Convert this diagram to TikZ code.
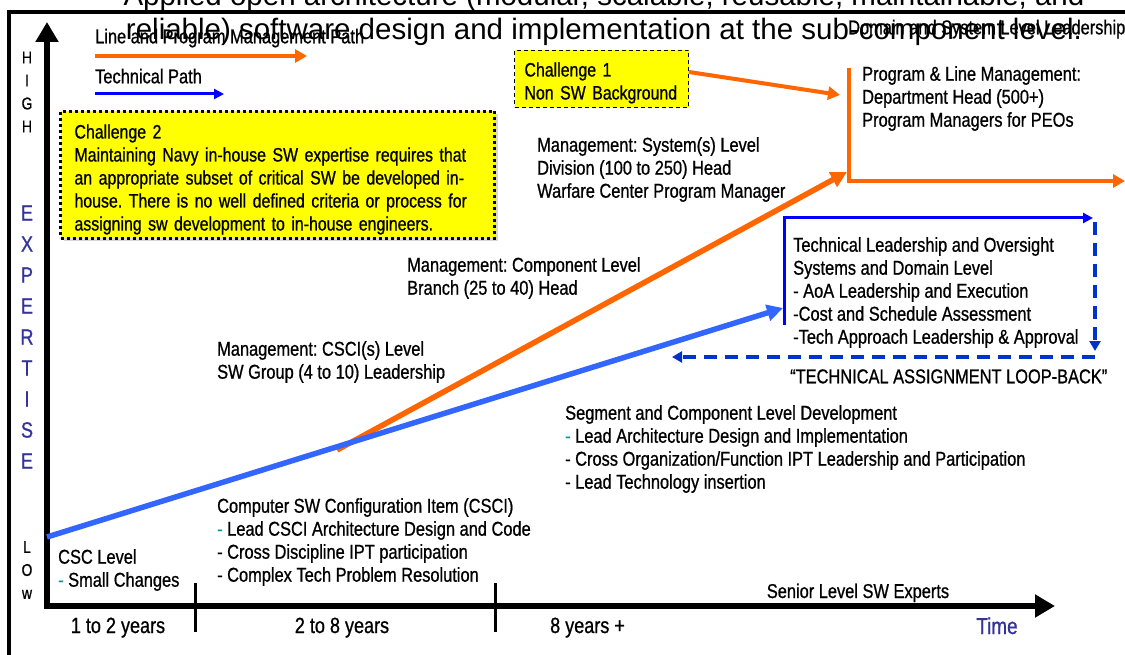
\documentclass[tikz,border=0pt]{standalone}
\usepackage{fontspec}
\setmainfont{Liberation Sans}
\newfontfamily\narrowfont{Liberation Sans}[FakeStretch=0.82, FakeBold=0.8]
\usetikzlibrary{arrows.meta,shadows}
\definecolor{mgmtorange}{RGB}{255,102,0}
\definecolor{techblue}{RGB}{51,102,255}
\definecolor{boxblue}{RGB}{0,0,255}
\definecolor{loopblue}{RGB}{0,51,204}
\definecolor{axisblue}{RGB}{51,51,153}
\definecolor{dashteal}{RGB}{0,153,153}
\definecolor{chalyellow}{RGB}{255,255,0}
\newcommand{\tdash}{\textcolor{dashteal}{-}}

\begin{document}
\frenchspacing
\begin{tikzpicture}[x=1pt,y=-1pt,
    txt/.style={font=\narrowfont\fontsize{20}{23}\selectfont, align=left, inner sep=0pt, anchor=north west, execute at begin node=\strut},
    lbl/.style={font=\narrowfont\fontsize{20}{23}\selectfont, inner sep=0pt, anchor=base},
    yrs/.style={font=\narrowfont\fontsize{22}{26}\selectfont, inner sep=0pt, anchor=base},
    vword/.style={font=\narrowfont\fontsize{17}{23}\selectfont, align=center, inner sep=0pt},
    ttl/.style={font=\fontsize{29.5}{33}\selectfont, inner sep=0pt, anchor=base},
    chal/.style={fill=chalyellow, font=\narrowfont\fontsize{19.4}{23}\selectfont, align=left, anchor=north west, inner ysep=3pt}]
    \useasboundingbox (0,0) rectangle (1125,655);
    \clip (0,0) rectangle (1125,655);
    \fill[white] (0,0) rectangle (1125,655);

    \coordinate (frametl) at (9,12);
    \coordinate (framebr) at (1140,670);
    \draw[line width=4pt] (frametl) rectangle (framebr);

    \node[ttl] (title1) at (604,6) {Applied open architecture (modular, scalable, reusable, maintainable, and};
    \node[ttl] (title2) at (604,40) {reliable) software design and implementation at the sub-component level.};

    % legend
    \node[txt] (legmgmt) at (95,27) {Line and Program Management Path};
    \node[txt] (legtech) at (95,67) {Technical Path};
    \coordinate (legmgmta) at (95,56);
    \coordinate (legmgmtb) at (307,56);
    \coordinate (legtecha) at (95,94);
    \coordinate (legtechb) at (224,94);
    \draw[mgmtorange, line width=4pt, -{Triangle[length=12pt,width=13pt]}] (legmgmta) -- (legmgmtb);
    \draw[boxblue, line width=3pt, -{Triangle[length=10pt,width=10pt]}] (legtecha) -- (legtechb);

    % axes
    \node[vword] (high) at (27,92) {H\\I\\G\\H};
    \node[vword, font=\narrowfont\fontsize{22}{31}\selectfont, text=axisblue] (expertise) at (27,337) {E\\X\\P\\E\\R\\T\\I\\S\\E};
    \node[vword] (low) at (27,570) {L\\O\\w};
    \coordinate (ybase) at (47,609);
    \coordinate (ytip) at (47,22);
    \coordinate (xbase) at (44,606);
    \coordinate (xtip) at (1055,606);
    \draw[line width=6pt, -{Triangle[length=20pt,width=22pt]}] (ybase) -- (ytip);
    \draw[line width=6pt, -{Triangle[length=20pt,width=22pt]}] (xbase) -- (xtip);
    \coordinate (tick1a) at (195,583);
    \coordinate (tick1b) at (195,632);
    \coordinate (tick2a) at (495,583);
    \coordinate (tick2b) at (495,632);
    \draw[line width=3pt] (tick1a) -- (tick1b);
    \draw[line width=3pt] (tick2a) -- (tick2b);
    \node[yrs] (yrs1) at (118,633) {1 to 2 years};
    \node[yrs] (yrs2) at (342,633) {2 to 8 years};
    \node[yrs, anchor=base west] (yrs3) at (550,633) {8 years +};
    \node[yrs, font=\narrowfont\fontsize{23}{26}\selectfont, text=axisblue] (time) at (997,634) {Time};
    \node[lbl] (senior) at (858,598) {Senior Level SW Experts};

    % challenges
    \node[chal, text width=406pt, inner xsep=14pt, draw=black, line width=3pt, dash pattern=on 3pt off 3pt,
          drop shadow={shadow xshift=3pt, shadow yshift=-3pt, fill=black!30}] (chal2) at (59,110)
         {\rule{0pt}{24pt}Challenge 2\\Maintaining Navy in-house SW expertise requires that\\an appropriate subset of critical SW be developed in-\\house. There is no well defined criteria or process for\\assigning sw development to in-house engineers.\rule[-5pt]{0pt}{5pt}};
    \node[chal, text width=154pt, inner xsep=10pt, draw=black, line width=1pt, dash pattern=on 4pt off 3pt] (chal1) at (514,50)
         {\rule{0pt}{23pt}Challenge 1\\Non SW Background\rule[-5pt]{0pt}{5pt}};
    \coordinate (pmtip) at (840,95);
    \draw[mgmtorange, line width=4pt, -{Triangle[length=12pt,width=13pt]}] ([yshift=7pt]chal1.east) -- (pmtip);

    % management path
    \coordinate (mgmtstart) at (337,450);
    \coordinate (mgmtknee) at (847,172);
    \coordinate (plmtop) at (849,68);
    \coordinate (plmknee) at (849,181);
    \coordinate (plmend) at (1125,181);
    \draw[mgmtorange, line width=5.5pt, -{Triangle[length=16pt,width=16pt]}] (mgmtstart) -- (mgmtknee);
    \draw[mgmtorange, line width=4pt, -{Triangle[length=12pt,width=13pt]}] (plmtop) -- (plmknee) -- (plmend);

    \node[txt] (domain) at (848,18) {Domain and System Level Leadership};
    \node[txt] (pmtext) at (862,66) {Program \& Line Management:\\Department Head (500+)\\Program Managers for PEOs};
    \node[txt] (msys) at (537,137) {Management: System(s) Level\\Division (100 to 250) Head\\Warfare Center Program Manager};
    \node[txt] (mcomp) at (407,257) {Management: Component Level\\Branch (25 to 40) Head};
    \node[txt] (mcsci) at (217,341) {Management: CSCI(s) Level\\SW Group (4 to 10) Leadership};

    % technical path
    \coordinate (techstart) at (47,537);
    \coordinate (techtip) at (783,308);
    \coordinate (tlbot) at (784,325);
    \coordinate (tltop) at (784,218);
    \coordinate (tlend) at (1093,218);
    \draw[techblue, line width=5.5pt, -{Triangle[length=16pt,width=16pt]}] (techstart) -- (techtip);
    \draw[boxblue, line width=3pt, -{Triangle[length=10pt,width=10pt]}] (tlbot) -- (tltop) -- (tlend);

    \begin{scope}[loopblue, line width=4pt, dash pattern=on 13pt off 8pt]
    \coordinate (loopa) at (1095,222);
    \coordinate (loopb) at (1095,351);
    \coordinate (loopc) at (1095,357);
    \coordinate (loopd) at (672,357);
    \draw[-{Triangle[length=10pt,width=11pt]}] (loopa) -- (loopb);
    \draw[-{Triangle[length=10pt,width=11pt]}] (loopc) -- (loopd);
    \end{scope}

    \node[txt] (techlead) at (793,237) {Technical Leadership and Oversight\\Systems and Domain Level\\- AoA Leadership and Execution\\-Cost and Schedule Assessment\\-Tech Approach Leadership \& Approval};
    \node[txt] (loopback) at (790,367) {“TECHNICAL ASSIGNMENT LOOP-BACK”};
    \node[txt] (segment) at (565,405) {Segment and Component Level Development\\\tdash{} Lead Architecture Design and Implementation\\- Cross Organization/Function IPT Leadership and Participation\\- Lead Technology insertion};
    \node[txt] (csci) at (217,498) {Computer SW Configuration Item (CSCI)\\\tdash{} Lead CSCI Architecture Design and Code\\- Cross Discipline IPT participation\\- Complex Tech Problem Resolution};
    \node[txt] (csc) at (58,549) {CSC Level\\\tdash{} Small Changes};

\end{tikzpicture}
\end{document}
